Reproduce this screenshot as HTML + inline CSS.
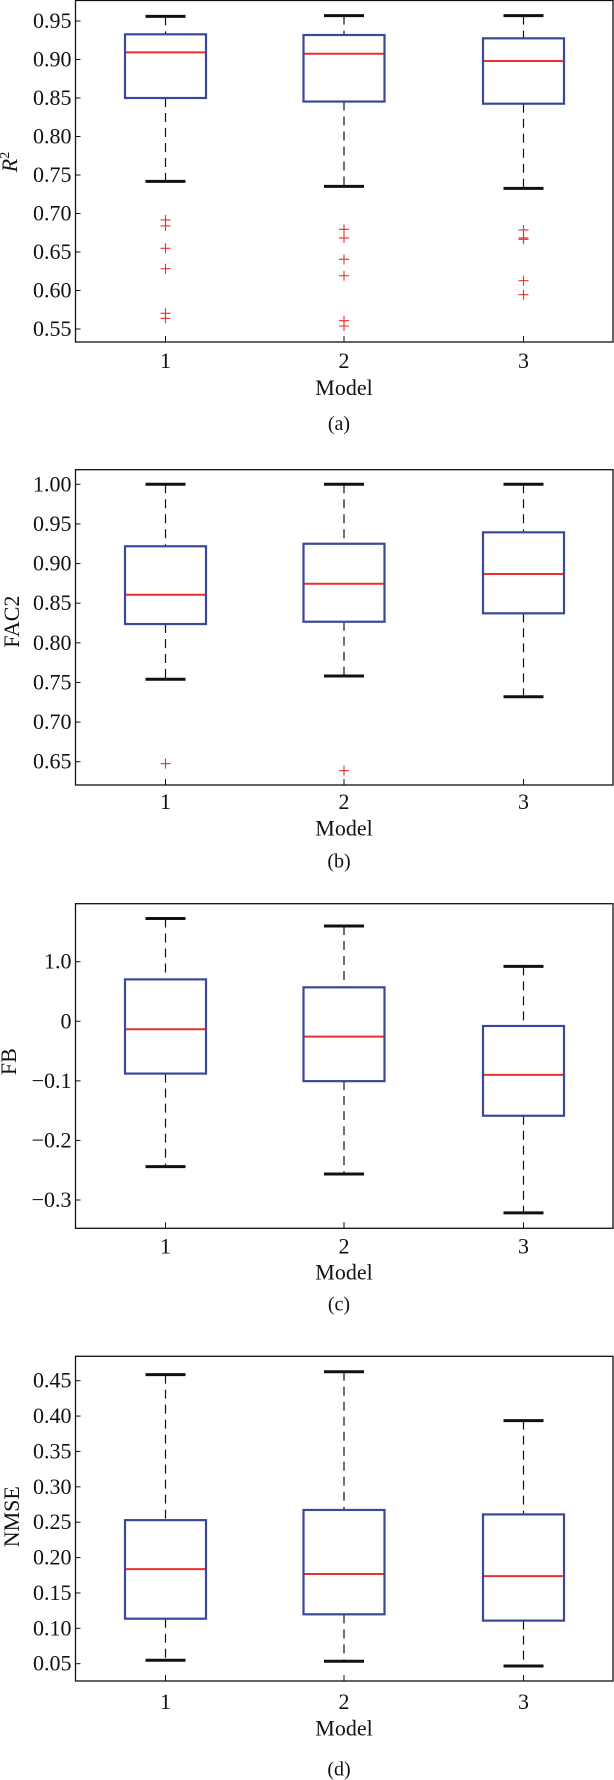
<!DOCTYPE html>
<html><head><meta charset="utf-8">
<style>
html,body{margin:0;padding:0;background:#fff;}
svg{display:block;}
svg text{font-family:"Liberation Serif","Times New Roman",serif;fill:#111;}
</style></head>
<body>
<svg id="fig" width="614" height="1780" viewBox="0 0 614 1780" font-family="'Liberation Serif', 'Times New Roman', serif" xmlns="http://www.w3.org/2000/svg"></svg>
<script>
// ---- Data ----
const categories = ["1","2","3"];

// Panel (a) R^2
const r2Low = [0.7418, 0.7353, 0.7327];
const r2Q1 = [0.8500, 0.8454, 0.8426];
const r2Med = [0.9093, 0.9075, 0.8980];
const r2Q3 = [0.9327, 0.9318, 0.9275];
const r2High = [0.9560, 0.9569, 0.9569];
const r2Out1 = [0.6916, 0.6838, 0.6548, 0.6283, 0.5704, 0.5639];
const r2Out2 = [0.6794, 0.6682, 0.6405, 0.6192, 0.5608, 0.5539];
const r2Out3 = [0.6786, 0.6682, 0.6665, 0.6127, 0.5945];
const r2Ticks = [0.95,0.90,0.85,0.80,0.75,0.70,0.65,0.60,0.55];
const r2TickLabels = ["0.95","0.90","0.85","0.80","0.75","0.70","0.65","0.60","0.55"];

// Panel (b) FAC2
const facLow = [0.7540, 0.7581, 0.7320];
const facQ1 = [0.8237, 0.8266, 0.8372];
const facMed = [0.8607, 0.8746, 0.8868];
const facQ3 = [0.9218, 0.9250, 0.9394];
const facHigh = [1.0, 1.0, 1.0];
const facOut1 = [0.6475];
const facOut2 = [0.6387];
const facOut3 = [];
const facTicks = [1.00,0.95,0.90,0.85,0.80,0.75,0.70,0.65];
const facTickLabels = ["1.00","0.95","0.90","0.85","0.80","0.75","0.70","0.65"];

// Panel (c) FB
const fbLow = [-0.244, -0.2563, -0.3216];
const fbQ1 = [-0.0878, -0.1005, -0.1586];
const fbMed = [-0.0134, -0.0258, -0.0900];
const fbQ3 = [0.0703, 0.0570, -0.0079];
const fbHigh = [0.1725, 0.1600, 0.0921];
const fbTicks = [0.1, 0, -0.1, -0.2, -0.3];
const fbTickLabels = ["1.0","0","\u22120.1","\u22120.2","\u22120.3"];

// Panel (d) NMSE
const nmLow = [0.0548, 0.0534, 0.0467];
const nmQ1 = [0.1136, 0.1198, 0.1109];
const nmMed = [0.1836, 0.1767, 0.1738];
const nmQ3 = [0.2529, 0.2673, 0.2610];
const nmHigh = [0.4585, 0.4627, 0.3935];
const nmTicks = [0.45,0.40,0.35,0.30,0.25,0.20,0.15,0.10,0.05];
const nmTickLabels = ["0.45","0.40","0.35","0.30","0.25","0.20","0.15","0.10","0.05"];

const NS = "http://www.w3.org/2000/svg";
const svg = document.getElementById("fig");
const FONT = "'Liberation Serif', 'Times New Roman', serif";
function mk(tag, attrs, parent){
  const e = document.createElementNS(NS, tag);
  for (const k in attrs) e.setAttribute(k, attrs[k]);
  if (tag === "text") e.setAttribute("font-family", FONT);
  (parent||svg).appendChild(e);
  return e;
}

const X_LEFT = 75.5, X_RIGHT = 613;
const xPos = [165.5, 344, 523.5];
function xScale(i){ return xPos[i]; }

function panel(cfg){
  const g = mk("g", {});
  
  
  const y = v => cfg.p0 + (v - cfg.v0) * (cfg.p1 - cfg.p0) / (cfg.v1 - cfg.v0);

  cfg.ticks.forEach((t, k) => {
    const yy = y(t);
    const tk = mk("line", {x1:X_LEFT, x2:X_LEFT+5, y1:yy, y2:yy, stroke:"#111", "stroke-width":1}, g);
    
    
    const tl = mk("text", {x:X_LEFT-4, y:yy+7, "text-anchor":"end", "font-size":22}, g);
    
    
    tl.textContent = cfg.tickLabels[k];
  });
  categories.forEach((c, i) => {
    const xx = xScale(i);
    const tk = mk("line", {x1:xx, x2:xx, y1:cfg.bottom, y2:cfg.bottom-6, stroke:"#111", "stroke-width":1}, g);
    
    
    const tl = mk("text", {x:xx, y:cfg.xTickY+8, "text-anchor":"middle", "font-size":22}, g);
    
    
    tl.textContent = c;
  });

  categories.forEach((c, i) => {
    const xx = xScale(i);
    const bg = mk("g", {}, g);
    
    
    const wh = mk("line", {x1:xx, x2:xx, y1:y(cfg.high[i]), y2:y(cfg.q3[i]), stroke:"#111", "stroke-width":1.2, "stroke-dasharray":"9,6"}, bg);
    
    
    const wl = mk("line", {x1:xx, x2:xx, y1:y(cfg.q1[i]), y2:y(cfg.low[i]), stroke:"#111", "stroke-width":1.2, "stroke-dasharray":"9,6"}, bg);
    
    
    const ch = mk("line", {x1:xx-20, x2:xx+20, y1:y(cfg.high[i]), y2:y(cfg.high[i]), stroke:"#111", "stroke-width":3}, bg);
    
    
    const cl = mk("line", {x1:xx-20, x2:xx+20, y1:y(cfg.low[i]), y2:y(cfg.low[i]), stroke:"#111", "stroke-width":3}, bg);
    
    
    const yq3 = y(cfg.q3[i]), yq1 = y(cfg.q1[i]);
    const rc = mk("rect", {x:xx-40.5, y:Math.min(yq3,yq1), width:81, height:Math.abs(yq1-yq3), fill:"none", stroke:"#3b4899", "stroke-width":2.2}, bg);
    
    
    const md = mk("line", {x1:xx-39.5, x2:xx+39.5, y1:y(cfg.med[i]), y2:y(cfg.med[i]), stroke:"#e8302e", "stroke-width":2}, bg);
    
    
    (cfg.outliers[i] || []).forEach(o => {
      const oy = y(o);
      const p = mk("path", {d:`M${xx-5} ${oy}H${xx+5}M${xx} ${oy-5}V${oy+5}`, stroke:"#e8302e", "stroke-width":1.1, fill:"none"}, bg);
      
      
    });
  });

  const fr = mk("rect", {x:X_LEFT, y:cfg.top, width:X_RIGHT-X_LEFT, height:cfg.bottom-cfg.top, fill:"none", stroke:"#111", "stroke-width":1.3}, g);
  
  

  const xl = mk("text", {x:344, y:cfg.modelY+8, "text-anchor":"middle", "font-size":22}, g);
  
  
  xl.textContent = "Model";
  const cap = mk("text", {x:339, y:cfg.capY+7, "text-anchor":"middle", "font-size":20}, g);
  
  
  cap.textContent = cfg.caption;
  const yl = mk("text", {x:0, y:0, "text-anchor":"middle", "font-size":22, transform:`translate(${cfg.ylabX},${cfg.ylabY}) rotate(-90)`}, g);
  
  
  if (cfg.ylabel === "R2") {
    const t1 = mk("tspan", {"font-style":"italic"}, yl); t1.textContent = "R";
    const t2 = mk("tspan", {"font-size":14, dy:-8}, yl); t2.textContent = "2";
  } else {
    yl.textContent = cfg.ylabel;
  }
}

panel({name:"panel-a-r2", top:0.5, bottom:342, v0:0.95, p0:21, v1:0.55, p1:329,
  ticks:r2Ticks, tickLabels:r2TickLabels, low:r2Low, q1:r2Q1, med:r2Med, q3:r2Q3, high:r2High,
  outliers:[r2Out1, r2Out2, r2Out3], xTickY:360, modelY:387, capY:423, caption:"(a)",
  ylabel:"R2", ylabX:17, ylabY:162});

panel({name:"panel-b-fac2", top:469.7, bottom:785, v0:1.00, p0:484.3, v1:0.65, p1:761.7,
  ticks:facTicks, tickLabels:facTickLabels, low:facLow, q1:facQ1, med:facMed, q3:facQ3, high:facHigh,
  outliers:[facOut1, facOut2, facOut3], xTickY:801, modelY:827.7, capY:860.7, caption:"(b)",
  ylabel:"FAC2", ylabX:19, ylabY:621.7});

panel({name:"panel-c-fb", top:903.7, bottom:1228.3, v0:0.1, p0:961.7, v1:-0.3, p1:1200,
  ticks:fbTicks, tickLabels:fbTickLabels, low:fbLow, q1:fbQ1, med:fbMed, q3:fbQ3, high:fbHigh,
  outliers:[[],[],[]], xTickY:1245.7, modelY:1271.7, capY:1303.3, caption:"(c)",
  ylabel:"FB", ylabX:16, ylabY:1061.7});

panel({name:"panel-d-nmse", top:1356.3, bottom:1681, v0:0.45, p0:1380.7, v1:0.05, p1:1663.7,
  ticks:nmTicks, tickLabels:nmTickLabels, low:nmLow, q1:nmQ1, med:nmMed, q3:nmQ3, high:nmHigh,
  outliers:[[],[],[]], xTickY:1701, modelY:1727.3, capY:1768.3, caption:"(d)",
  ylabel:"NMSE", ylabX:19, ylabY:1516.7});
</script>
</body></html>
